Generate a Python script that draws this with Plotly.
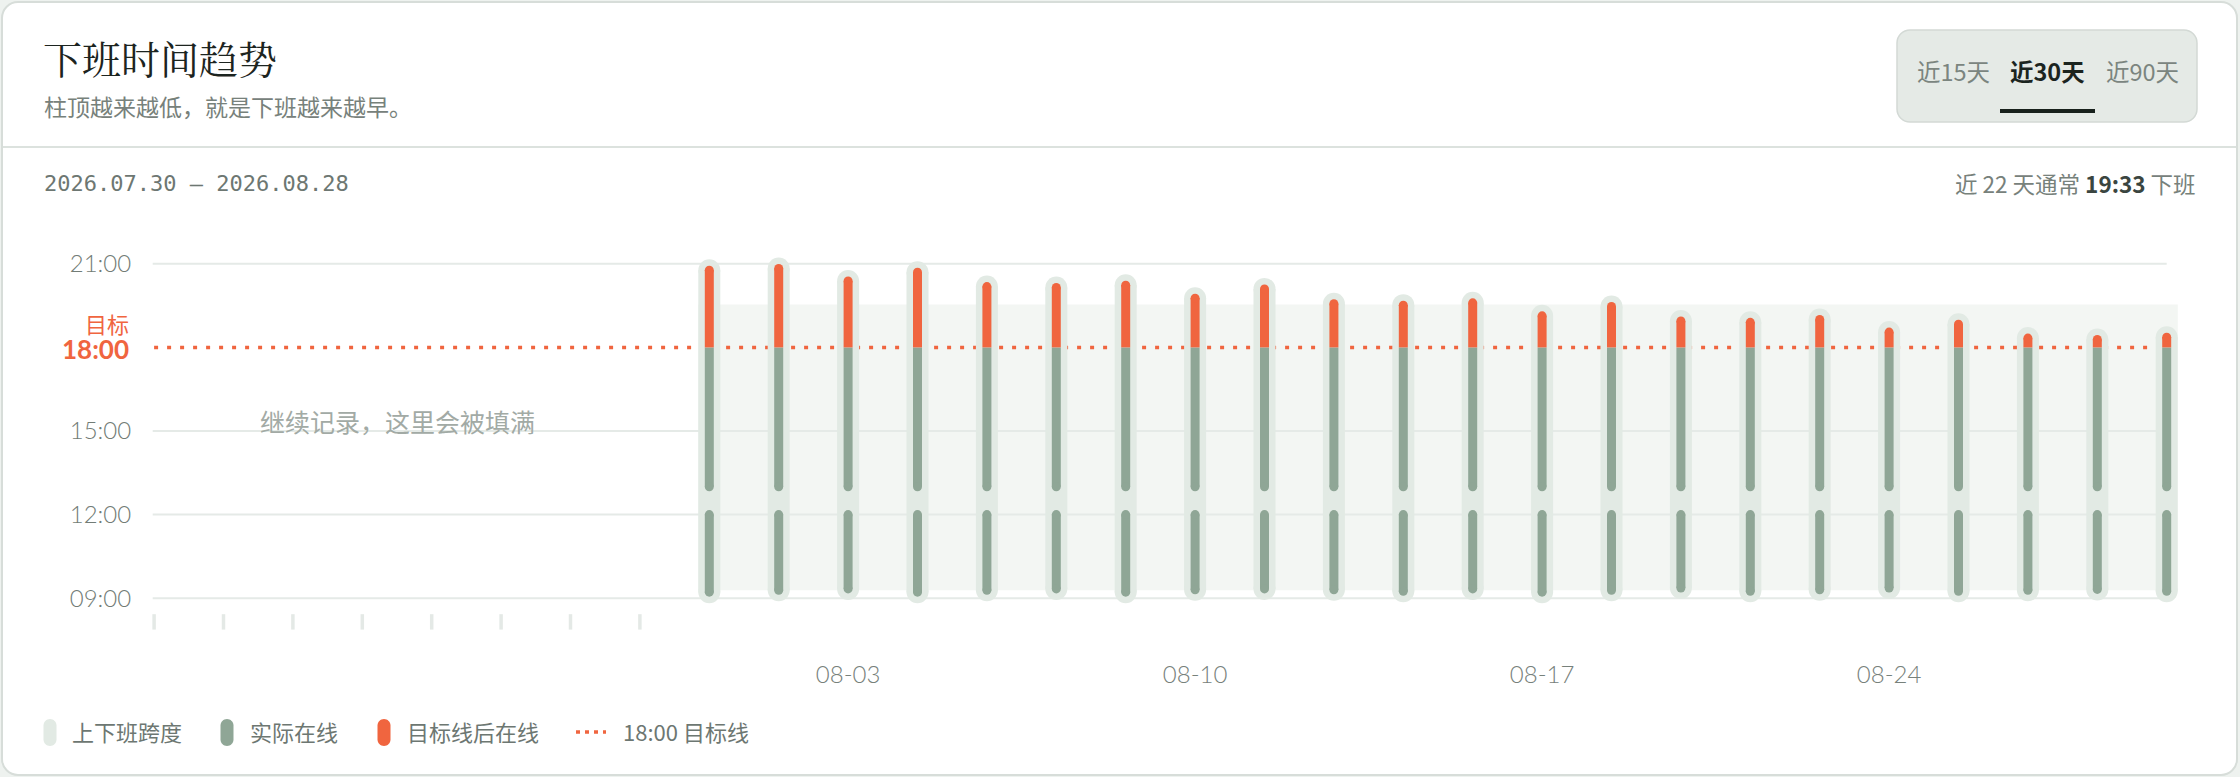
import plotly.graph_objects as go

# ---------------- data ----------------
workdays = ["07-30", "07-31",
            "08-03", "08-04", "08-05", "08-06", "08-07",
            "08-10", "08-11", "08-12", "08-13", "08-14",
            "08-17", "08-18", "08-19", "08-20", "08-21",
            "08-24", "08-25", "08-26", "08-27", "08-28"]
start_times = ["09:13", "09:17",
               "09:20", "09:13", "09:17", "09:20", "09:13",
               "09:18", "09:20", "09:18", "09:15", "09:20",
               "09:13", "09:17", "09:22", "09:15", "09:18",
               "09:22", "09:15", "09:17", "09:19", "09:15"]
end_times = ["20:46", "20:50",
             "20:23", "20:42", "20:11", "20:09", "20:14",
             "19:46", "20:06", "19:34", "19:31", "19:36",
             "19:08", "19:28", "18:57", "18:54", "19:00",
             "18:33", "18:50", "18:20", "18:17", "18:22"]
empty_slots = 8
x_tick_labels = ["08-03", "08-10", "08-17", "08-24"]
y_tick_vals = [9, 12, 15, 21]
y_tick_text = ["09:00", "12:00", "15:00", "21:00"]
TARGET = 18.0
LUNCH_START = 12.0
LUNCH_END = 13.0
title_text = "下班时间趋势"
subtitle_text = "柱顶越来越低，就是下班越来越早。"
date_range_text = "2026.07.30 — 2026.08.28"
stat_days = 22
stat_time = "19:33"
toggle_labels = ["近15天", "近30天", "近90天"]
legend_labels = ["上下班跨度", "实际在线", "目标线后在线", "18:00 目标线"]
empty_hint = "继续记录，这里会被填满"

# ---------------- style ----------------
ORANGE = "#f0653f"
DARK = "#8fa696"
SPAN = "#e2eae4"
BAND = "#f3f6f3"
GRID = "#e5eae7"
GRAY = "#77817b"
INK = "#1c2420"
CJK = "Noto Sans CJK SC, Noto Sans, sans-serif"
NUM = "Lato, Noto Sans CJK SC, sans-serif"

W, H = 2240, 777
L, R, T, B = 148, 20, 222, 137
PW, PH = W - L - R, H - T - B


def xp(px):
    return (px - L) / PW


def yp(py):
    return (H - B - py) / PH


def hm(s):
    h, m = s.split(":")
    return int(h) + int(m) / 60


def rr_path(x0, y0, x1, y1, r):
    k = 0.5523 * r
    pts = [("M", [(x0 + r, y0)]),
           ("L", [(x1 - r, y0)]),
           ("C", [(x1 - r + k, y0), (x1, y0 + r - k), (x1, y0 + r)]),
           ("L", [(x1, y1 - r)]),
           ("C", [(x1, y1 - r + k), (x1 - r + k, y1), (x1 - r, y1)]),
           ("L", [(x0 + r, y1)]),
           ("C", [(x0 + r - k, y1), (x0, y1 - r + k), (x0, y1 - r)]),
           ("L", [(x0, y0 + r)]),
           ("C", [(x0, y0 + r - k), (x0 + r - k, y0), (x0 + r, y0)])]
    out = []
    for cmd, ps in pts:
        out.append(cmd + " ".join(f"{xp(a):.6f},{yp(b):.6f}" for a, b in ps))
    return " ".join(out) + " Z"


categories = [f"_{i}" for i in range(empty_slots)] + workdays
starts = [hm(s) for s in start_times]
ends = [hm(e) for e in end_times]


def median(v):
    s = sorted(v)
    n = len(s)
    return (s[n // 2 - 1] + s[n // 2]) / 2 if n % 2 == 0 else s[n // 2]


def seg_xy(xs, y0s, y1s):
    X, Y = [], []
    for x, a, b in zip(xs, y0s, y1s):
        X += [x, x, None]
        Y += [a, b, None]
    return X, Y


fig = go.Figure()

# target dotted line (behind bars)
fig.add_trace(go.Scatter(x=[categories[0], categories[-1]], y=[TARGET, TARGET],
                         mode="lines", line=dict(color=ORANGE, width=3.5, dash="4px,9px"),
                         hoverinfo="skip", cliponaxis=False))

# placeholder ticks for empty slots
fig.add_trace(go.Scatter(x=categories[:empty_slots], y=[8.15] * empty_slots, mode="markers",
                         marker=dict(symbol="line-ns", size=11, line=dict(width=3.5, color="#e4e9e6")),
                         hoverinfo="skip", cliponaxis=False))

# span capsules
X, Y = seg_xy(workdays, starts, ends)
fig.add_trace(go.Scatter(x=X, y=Y, mode="lines", line=dict(color=SPAN, width=22),
                         hoverinfo="skip", cliponaxis=False))
fig.add_trace(go.Scatter(x=workdays + workdays, y=starts + ends, mode="markers",
                         marker=dict(size=22, color=SPAN, line=dict(width=0)),
                         hoverinfo="skip", cliponaxis=False))

# morning online
X, Y = seg_xy(workdays, starts, [LUNCH_START] * len(workdays))
fig.add_trace(go.Scatter(x=X, y=Y, mode="lines", line=dict(color=DARK, width=9),
                         hoverinfo="skip", cliponaxis=False))
# afternoon online up to target
X, Y = seg_xy(workdays, [LUNCH_END] * len(workdays), [min(TARGET, e) for e in ends])
fig.add_trace(go.Scatter(x=X, y=Y, mode="lines", line=dict(color=DARK, width=9),
                         hoverinfo="skip", cliponaxis=False))
fig.add_trace(go.Scatter(x=workdays * 3,
                         y=starts + [LUNCH_START] * len(workdays) + [LUNCH_END] * len(workdays),
                         mode="markers", marker=dict(size=9, color=DARK, line=dict(width=0)),
                         hoverinfo="skip", cliponaxis=False))
# after target
X, Y = seg_xy(workdays, [TARGET] * len(workdays), ends)
fig.add_trace(go.Scatter(x=X, y=Y, mode="lines", line=dict(color=ORANGE, width=9),
                         hoverinfo="skip", cliponaxis=False))
fig.add_trace(go.Scatter(x=workdays, y=ends, mode="markers",
                         marker=dict(size=9, color=ORANGE, line=dict(width=0)),
                         hoverinfo="skip", cliponaxis=False))

shapes = []
# card
shapes.append(dict(type="path", xref="paper", yref="paper", layer="below",
                   path=rr_path(2, 2, 2237, 775, 16), fillcolor="#ffffff",
                   line=dict(color="#d7ddd9", width=2)))
# divider
shapes.append(dict(type="line", xref="paper", yref="paper", layer="below",
                   x0=xp(3), x1=xp(2236), y0=yp(147), y1=yp(147),
                   line=dict(color="#dce2de", width=2)))
# toggle box
shapes.append(dict(type="path", xref="paper", yref="paper", layer="below",
                   path=rr_path(1897, 30, 2197, 122, 13), fillcolor="#e5eae6",
                   line=dict(color="#d3d9d5", width=1.5)))
shapes.append(dict(type="rect", xref="paper", yref="paper", layer="above",
                   x0=xp(2000), x1=xp(2095), y0=yp(113), y1=yp(109),
                   fillcolor="#18211c", line=dict(width=0)))
# typical band
first = empty_slots
last = len(categories) - 1
shapes.append(dict(type="rect", xref="x", yref="y", layer="below",
                   x0=first - 0.16, x1=last + 0.16, y0=median(starts), y1=median(ends),
                   fillcolor=BAND, line=dict(width=0)))
# gridlines
for v in y_tick_vals:
    shapes.append(dict(type="line", xref="x", yref="y", layer="below",
                       x0=-0.02, x1=last, y0=v, y1=v, line=dict(color=GRID, width=2)))

# legend icons
for cx, col in [(50, SPAN), (227, DARK), (384, ORANGE)]:
    shapes.append(dict(type="path", xref="paper", yref="paper", layer="above",
                       path=rr_path(cx - 6.5, 719, cx + 6.5, 746, 6.5), fillcolor=col,
                       line=dict(width=0)))
shapes.append(dict(type="line", xref="paper", yref="paper", layer="above",
                   x0=xp(576), x1=xp(606), y0=yp(732), y1=yp(732),
                   line=dict(color=ORANGE, width=3.5, dash="4px,5px")))

ann = []


def A(text, px, py, size, color, xanchor="left", family=CJK, weight=None, **kw):
    f = dict(size=size, color=color, family=family)
    if weight:
        f["weight"] = weight
    ann.append(dict(text=text, x=xp(px), y=yp(py), xref="paper", yref="paper",
                    xanchor=xanchor, yanchor="middle", showarrow=False, font=f, **kw))


A(title_text, 41, 57, 39, INK, family="Noto Serif CJK SC, Noto Serif SC, serif")
A(subtitle_text, 42, 106, 23, GRAY)
A(date_range_text, 42, 183, 22, "#6d7772", family="DejaVu Sans Mono, monospace")
A(f"近 {stat_days} 天通常 <b><span style='color:#3a4540'>{stat_time}</span></b> 下班",
  2198, 183, 22.5, GRAY, xanchor="right")
for lbl, cx, active in zip(toggle_labels, [1953, 2047, 2142], [False, True, False]):
    A(f"<b>{lbl}</b>" if active else lbl, cx, 71, 23.5, "#1b241f" if active else "#7b857f",
      xanchor="center")
A("<span style='font-size:22px'>目标</span><br>"
  "<span style='font-family:Lato, sans-serif;font-size:26px'><b>18:00</b></span>",
  131, 336, 20, ORANGE, xanchor="right", align="right")
for lbl, px in zip(legend_labels, [70, 248, 405, 621]):
    A(lbl, px, 731, 22, "#6d7772")
ann.append(dict(text=empty_hint, x=(empty_slots - 1) / 2, y=15.35, xref="x", yref="y",
                xanchor="center", yanchor="middle", showarrow=False,
                font=dict(size=25, color="#a2aaa5", family=CJK)))

fig.update_layout(
    width=W, height=H,
    margin=dict(l=L, r=R, t=T, b=B, pad=0),
    paper_bgcolor="#eef2ef", plot_bgcolor="rgba(0,0,0,0)",
    showlegend=False, shapes=shapes, annotations=ann,
    xaxis=dict(type="category", categoryorder="array", categoryarray=categories,
               range=[-0.0879, 29.768], tickvals=x_tick_labels, ticktext=x_tick_labels,
               ticks="outside", ticklen=13, tickcolor="rgba(0,0,0,0)",
               showgrid=False, zeroline=False, showline=False, fixedrange=True,
               tickfont=dict(size=24, color="#77817b", family=NUM, weight=300)),
    yaxis=dict(range=[7.5, 22.5], tickvals=y_tick_vals, ticktext=y_tick_text,
               ticks="outside", ticklen=11, tickcolor="rgba(0,0,0,0)",
               showgrid=False, zeroline=False, showline=False, fixedrange=True,
               tickfont=dict(size=24, color="#727c76", family=NUM, weight=300)),
)

fig.write_html("out.html",
               config={"displayModeBar": False, "staticPlot": True},
               post_script="document.body.style.margin='0';document.body.style.overflow='hidden';")
